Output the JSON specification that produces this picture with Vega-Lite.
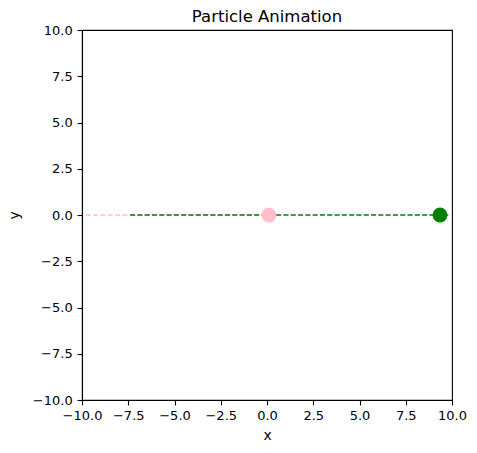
{
  "$schema": "https://vega.github.io/schema/vega-lite/v6.json",
  "description": "Particle animation frame: two particles with dashed trails.",
  "autosize": {"type": "none"},
  "padding": {"left": 82, "top": 30, "right": 25, "bottom": 53},
  "width": 370,
  "height": 370,
  "title": {
    "text": "Particle Animation",
    "font": "DejaVu Sans",
    "fontSize": 16.5,
    "fontWeight": "normal",
    "color": "black",
    "baseline": "bottom",
    "offset": 2,
    "dy": 19
  },
  "datasets": {
    "trails": [
      {"particle": "pink", "x": -9.8, "y": 0},
      {"particle": "pink", "x": 0.1, "y": 0},
      {"particle": "green", "x": -7.4, "y": 0},
      {"particle": "green", "x": 9.8, "y": 0}
    ],
    "positions": [
      {"particle": "pink", "x": 0.1, "y": 0},
      {"particle": "green", "x": 9.35, "y": 0}
    ]
  },
  "encoding": {
    "x": {
      "field": "x",
      "type": "quantitative",
      "scale": {"domain": [-10, 10], "nice": false, "zero": false},
      "axis": {"values": [-10, -7.5, -5, -2.5, 0, 2.5, 5, 7.5, 10], "format": ".1f", "title": "x", "titleY": 39.3}
    },
    "y": {
      "field": "y",
      "type": "quantitative",
      "scale": {"domain": [-10, 10], "nice": false, "zero": false},
      "axis": {"values": [-10, -7.5, -5, -2.5, 0, 2.5, 5, 7.5, 10], "format": ".1f", "title": "y", "titleX": -63.2}
    },
    "color": {
      "field": "particle",
      "type": "nominal",
      "scale": {"domain": ["pink", "green"], "range": ["#FFC0CB", "#008000"]},
      "legend": null
    }
  },
  "layer": [
    {
      "data": {"name": "trails"},
      "transform": [{"filter": "datum.particle === 'pink'"}],
      "mark": {"type": "line", "strokeDash": [5.1, 2.2], "strokeWidth": 1.4}
    },
    {
      "data": {"name": "trails"},
      "transform": [{"filter": "datum.particle === 'green'"}],
      "mark": {"type": "line", "strokeDash": [5.1, 2.2], "strokeWidth": 1.4}
    },
    {
      "data": {"name": "positions"},
      "mark": {"type": "circle", "size": 220, "opacity": 1}
    }
  ],
  "config": {
    "view": {"stroke": "black", "strokeWidth": 1.1},
    "axis": {
      "grid": false,
      "domainColor": "black",
      "domainWidth": 1.1,
      "tickColor": "black",
      "tickWidth": 1.1,
      "tickSize": 4.9,
      "labelPadding": 4.9,
      "labelFont": "DejaVu Sans",
      "labelFontSize": 13,
      "labelColor": "black",
      "labelFlush": false,
      "labelOverlap": false,
      "titleFont": "DejaVu Sans",
      "titleFontSize": 13.9,
      "titleFontWeight": "normal",
      "titleColor": "black",
      "titleBaseline": "alphabetic"
    }
  }
}
